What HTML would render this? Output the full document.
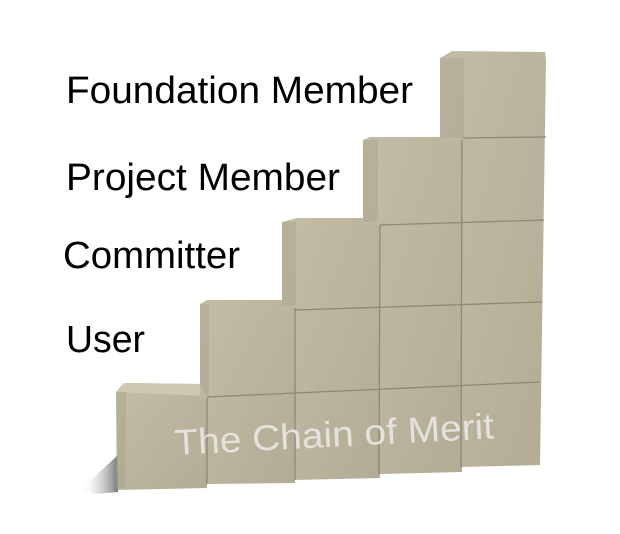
<!DOCTYPE html>
<html><head><meta charset="utf-8"><style>
html,body{margin:0;padding:0;background:#fff;}
svg{display:block}
text{font-family:"Liberation Sans",Arial,sans-serif;}
</style></head><body>
<svg width="620" height="534" viewBox="0 0 620 534" xmlns="http://www.w3.org/2000/svg">
<defs>
<linearGradient id="f" x1="0" y1="0" x2="1" y2="1">
<stop offset="0" stop-color="#c3bda6"/><stop offset="1" stop-color="#b2ac95"/>
</linearGradient>
<linearGradient id="sh" x1="0" y1="0" x2="1" y2="0">
<stop offset="0" stop-color="#ffffff" stop-opacity="0"/><stop offset="1" stop-color="#555" stop-opacity="0.8"/>
</linearGradient>
</defs>
<polygon points="80,490 118,455 118,492 95,494" fill="url(#sh)"/>
<!-- columns -->
<polygon points="116,392 124,383 200,384 207,396 207,488 118,490" fill="url(#f)"/>
<polygon points="200,304 207,300 290,300 295,308 295,483 207,484 207,398 200,396" fill="url(#f)"/>
<polygon points="282,222 297,218 378,218 380,225 380,478 295,480 295,308 282,306" fill="url(#f)"/>
<polygon points="363,140 370,137 460,137 463,140 462,472 380,474 380,225 363,222" fill="url(#f)"/>
<polygon points="440,58 452,51 545,52 546,60 540,465 462,467 462,140 440,138" fill="url(#f)"/>
<!-- top faces / side strips -->
<polygon points="116,392 124,383 200,384 207,396" fill="#cdc8b2"/>
<rect x="116" y="392" width="10" height="96" fill="#a8a28b" opacity="0.45"/>
<rect x="200" y="304" width="9" height="92" fill="#a8a28b" opacity="0.45"/>
<rect x="282" y="222" width="14" height="84" fill="#a8a28b" opacity="0.45"/>
<rect x="363" y="140" width="15" height="82" fill="#a8a28b" opacity="0.45"/>
<rect x="440" y="58" width="24" height="80" fill="#a8a28b" opacity="0.45"/>
<!-- grid lines -->
<g stroke="#8f8974" stroke-width="1.3" fill="none">
<line x1="207" y1="398" x2="207" y2="484"/>
<line x1="295" y1="308" x2="295" y2="480"/>
<line x1="380" y1="225" x2="379" y2="474"/>
<line x1="462" y1="140" x2="461" y2="467"/>
<line x1="207" y1="397" x2="540" y2="382"/>
<line x1="295" y1="310" x2="542" y2="302"/>
<line x1="380" y1="225" x2="544" y2="220"/>
<line x1="463" y1="138" x2="546" y2="137"/>
</g>
<text x="175" y="455" font-size="36" fill="#e4e2dc" transform="rotate(-3 175 455)" textLength="320" lengthAdjust="spacingAndGlyphs">The Chain of Merit</text>
<g fill="#000" font-size="38">
<text x="66" y="103" textLength="347" lengthAdjust="spacingAndGlyphs">Foundation Member</text>
<text x="66" y="190" textLength="274" lengthAdjust="spacingAndGlyphs">Project Member</text>
<text x="63" y="268" textLength="177" lengthAdjust="spacingAndGlyphs">Committer</text>
<text x="66" y="352" textLength="79" lengthAdjust="spacingAndGlyphs">User</text>
</g>
</svg>
</body></html>
